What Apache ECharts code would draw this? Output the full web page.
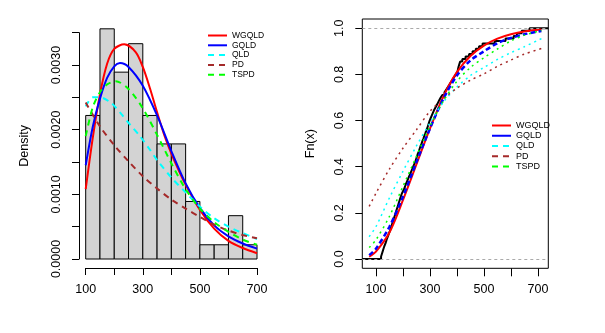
<!DOCTYPE html>
<html>
<head>
<meta charset="utf-8">
<script src="https://cdn.jsdelivr.net/npm/echarts@6/dist/echarts.min.js"></script>
<style>
html,body{margin:0;padding:0;background:#fff;}
#c{width:605px;height:333px;}
</style>
</head>
<body>
<div id="c"></div>
<script>
// ---- Data ----
const binStarts = [100,150,200,250,300,350,400,450,500,550,600,650];
const binWidth = 50;
const histDensity = [0.00222,0.00356,0.00289,0.00333,0.00222,0.00178,0.00178,0.00089,0.00022,0.00022,0.00067,0.00022];

const densWGQLD = [[100,0.00108],[125,0.00188],[150,0.00255],[175,0.00302],[200,0.00325],[235,0.00332],[275,0.00320],[300,0.00297],[325,0.00264],[350,0.00227],[375,0.00192],[400,0.00163],[425,0.00138],[450,0.00115],[500,0.00076],[550,0.00047],[600,0.00028],[650,0.00017],[700,0.00009]];
const densGQLD = [[100,0.00145],[125,0.00205],[150,0.00248],[175,0.00280],[200,0.00298],[220,0.00303],[250,0.00297],[300,0.00268],[350,0.00222],[400,0.00167],[450,0.00117],[500,0.00079],[550,0.00052],[600,0.00035],[650,0.00024],[700,0.00016]];
const densQLD = [[100,0.00236],[125,0.0025],[150,0.0025],[190,0.00241],[225,0.00224],[255,0.00208],[290,0.0019],[325,0.00169],[350,0.00153],[400,0.00126],[450,0.00103],[500,0.00081],[550,0.00063],[600,0.0005],[650,0.0004],[700,0.00031]];
const densPD = [[100,0.00242],[150,0.00205],[200,0.00176],[250,0.00151],[300,0.00128],[350,0.00109],[400,0.00092],[450,0.00078],[500,0.00065],[550,0.00053],[600,0.00044],[650,0.00037],[700,0.00032]];
const densTSPD = [[100,0.0019],[125,0.00235],[150,0.00258],[175,0.0027],[205,0.00275],[250,0.00263],[300,0.00233],[350,0.00192],[400,0.00148],[450,0.00108],[500,0.00078],[550,0.00057],[600,0.00042],[650,0.0003],[700,0.00022]];

const sample = [119,122,125,128,131,135,138,141,145,148,
  152,155,158,161,164,167,170,173,176,179,182,185,188,191,194,198,
  203,207,210,214,218,222,226,230,234,238,242,246,249,
  252,255,259,262,265,269,272,276,279,283,286,290,293,296,299,
  303,307,311,315,320,325,330,335,340,346,
  354,360,366,372,378,384,390,396,
  402,404,406,409,412,420,432,445,
  458,470,482,495,540,580,610,622,640,669];

const cdfWGQLD = [[75,0.01],[100,0.032],[150,0.115],[200,0.255],[250,0.41],[300,0.565],[350,0.705],[400,0.81],[450,0.88],[500,0.925],[550,0.955],[600,0.974],[650,0.986],[713,0.994]];
const cdfGQLD = [[75,0.017],[100,0.045],[150,0.14],[200,0.27],[250,0.42],[300,0.565],[350,0.695],[400,0.795],[450,0.86],[500,0.9],[550,0.935],[600,0.958],[650,0.974],[713,0.988]];
const cdfQLD = [[75,0.097],[100,0.14],[150,0.265],[200,0.38],[250,0.49],[300,0.59],[350,0.68],[400,0.745],[450,0.795],[500,0.83],[550,0.865],[600,0.894],[650,0.92],[713,0.955]];
const cdfPD = [[75,0.228],[100,0.285],[150,0.39],[200,0.48],[250,0.56],[300,0.64],[350,0.695],[400,0.74],[450,0.775],[500,0.802],[550,0.835],[600,0.862],[650,0.888],[713,0.912]];
const cdfTSPD = [[75,0.05],[100,0.083],[150,0.185],[200,0.315],[250,0.445],[300,0.575],[350,0.685],[400,0.77],[450,0.83],[500,0.872],[550,0.91],[600,0.945],[650,0.97],[713,0.99]];

const leftXTicks = [100,200,300,400,500,600,700];
const leftXLabels = [100,300,500,700];
const leftYTicks = [0,0.0005,0.001,0.0015,0.002,0.0025,0.003,0.0035];
const leftYLabels = [0,0.001,0.002,0.003];
const rightXTicks = [100,200,300,400,500,600,700];
const rightXLabels = [100,300,500,700];
const rightYTicks = [0,0.2,0.4,0.6,0.8,1.0];
const names = ['WGQLD','GQLD','QLD','PD','TSPD'];
const colors = {WGQLD:'#FF0000',GQLD:'#0000FF',QLD:'#00FFFF',PD:'#A52A2A',TSPD:'#00FF00'};

// ---- Build chart ----
const FONT = 'Liberation Sans, Arial, Helvetica, sans-serif';
const chart = echarts.init(document.getElementById('c'), null, {renderer:'canvas'});

const histData = binStarts.map((s,i)=>[s, s+binWidth, histDensity[i]]);
const n = sample.length;
const ecdf = [[49.5,0]];
sample.forEach((v,i)=>ecdf.push([v,(i+1)/n]));
ecdf.push([738.5,1]);

const leftDens = {WGQLD:densWGQLD,GQLD:densGQLD,QLD:densQLD,PD:densPD,TSPD:densTSPD};
const rightCdf = {WGQLD:cdfWGQLD,GQLD:cdfGQLD,QLD:cdfQLD,PD:cdfPD,TSPD:cdfTSPD};

const leftStyle = {
  WGQLD:{type:'solid',width:2},
  GQLD:{type:'solid',width:2},
  QLD:{type:[6,5],width:2},
  PD:{type:[6,5],width:2},
  TSPD:{type:[6,5],width:2}
};
const rightStyle = {
  WGQLD:{type:'solid',width:2},
  GQLD:{type:[5,3],width:2.5},
  QLD:{type:[2,4],width:1.5},
  PD:{type:[2,4],width:1.5},
  TSPD:{type:[2,4],width:1.5}
};

const axisBase = {
  axisLine:{onZero:false, lineStyle:{color:'#000',width:1}},
  splitLine:{show:false}
};

const series = [];
series.push({
  type:'custom', name:'hist', xAxisIndex:0, yAxisIndex:0, clip:false, z:1,
  data: histData,
  encode:{x:[0,1], y:2},
  renderItem:function(params, api){
    const p0 = api.coord([api.value(0), 0]);
    const p1 = api.coord([api.value(1), api.value(2)]);
    return {type:'rect', shape:{x:p0[0], y:p1[1], width:p1[0]-p0[0], height:p0[1]-p1[1]},
      style:{fill:'#D3D3D3', stroke:'#000', lineWidth:1}};
  }
});
names.forEach(nm=>{
  series.push({
    type:'line', name:nm, xAxisIndex:0, yAxisIndex:0, data:leftDens[nm],
    symbol:'none', showSymbol:false, smooth:0.3, z:3,
    lineStyle:{color:colors[nm], width:leftStyle[nm].width, type:leftStyle[nm].type},
    itemStyle:{color:colors[nm]}
  });
});
series.push({
  type:'line', name:'Fn', xAxisIndex:1, yAxisIndex:1, data:ecdf, step:'end',
  symbol:'none', z:3,
  lineStyle:{color:'#000', width:2},
  markLine:{silent:true, symbol:['none','none'], label:{show:false},
    lineStyle:{color:'#AAAAAA', type:[3,3], width:1},
    data:[{yAxis:0},{yAxis:1}]}
});
names.forEach(nm=>{
  series.push({
    type:'line', name:nm, xAxisIndex:1, yAxisIndex:1, data:rightCdf[nm],
    symbol:'none', showSymbol:false, smooth:0.3, z:4,
    lineStyle:{color:colors[nm], width:rightStyle[nm].width, type:rightStyle[nm].type},
    itemStyle:{color:colors[nm]}
  });
});

const legendItems = names.map(nm=>({
  name:nm,
  itemStyle:{color:'rgba(0,0,0,0)', borderColor:'rgba(0,0,0,0)', borderWidth:0, opacity:0},
  lineStyle:{color:colors[nm], width:2, type:leftStyle[nm].type}
}));

const option = {
  animation:false,
  backgroundColor:'#fff',
  textStyle:{fontFamily:FONT},
  grid:[
    {left:85.7, top:32.7, width:171.3, height:226.3},
    {left:362.3, top:19, width:186, height:249.3, show:true, borderColor:'#000', borderWidth:1, backgroundColor:'transparent'}
  ],
  legend:[
    {orient:'vertical', selectedMode:false, left:202, top:26, itemWidth:19, itemHeight:10, itemGap:0.8,
      itemStyle:{color:'rgba(0,0,0,0)', borderColor:'rgba(0,0,0,0)', borderWidth:0, opacity:0},
      textStyle:{color:'#000', fontFamily:FONT, fontSize:8.5}, data:legendItems},
    {orient:'vertical', selectedMode:false, left:486, top:116, itemWidth:19, itemHeight:10, itemGap:1.25,
      itemStyle:{color:'rgba(0,0,0,0)', borderColor:'rgba(0,0,0,0)', borderWidth:0, opacity:0},
      textStyle:{color:'#000', fontFamily:FONT, fontSize:9}, data:legendItems}
  ],
  xAxis:[
    Object.assign({}, axisBase, {gridIndex:0, type:'value', min:100, max:700, offset:9,
      axisTick:{customValues:leftXTicks, length:7, lineStyle:{color:'#000'}},
      axisLabel:{customValues:leftXLabels, fontSize:12.5, color:'#000', margin:15, fontFamily:FONT}}),
    Object.assign({}, axisBase, {gridIndex:1, type:'value', min:49.5, max:738.5,
      axisLine:{show:false, onZero:false},
      axisTick:{customValues:rightXTicks, length:8, lineStyle:{color:'#000'}},
      axisLabel:{customValues:rightXLabels, fontSize:12.5, color:'#000', margin:15, fontFamily:FONT}})
  ],
  yAxis:[
    Object.assign({}, axisBase, {gridIndex:0, type:'value', min:0, max:0.0035, offset:6.7,
      name:'Density', nameLocation:'middle', nameRotate:90, nameGap:48,
      nameTextStyle:{fontSize:12.5, color:'#000', fontFamily:FONT},
      axisTick:{customValues:leftYTicks, length:7, lineStyle:{color:'#000'}},
      axisLabel:{customValues:leftYLabels, rotate:90, fontSize:12.5, color:'#000', margin:16, fontFamily:FONT,
        formatter:v=>v.toFixed(4)}}),
    Object.assign({}, axisBase, {gridIndex:1, type:'value', min:-0.04, max:1.04,
      axisLine:{show:false, onZero:false},
      name:'Fn(x)', nameLocation:'middle', nameRotate:90, nameGap:45,
      nameTextStyle:{fontSize:12.5, color:'#000', fontFamily:FONT},
      axisTick:{customValues:rightYTicks, length:7, lineStyle:{color:'#000'}},
      axisLabel:{customValues:rightYTicks, rotate:90, fontSize:12.5, color:'#000', margin:16, fontFamily:FONT,
        formatter:v=>v.toFixed(1)}})
  ],
  series: series
};
chart.setOption(option);
</script>
</body>
</html>
